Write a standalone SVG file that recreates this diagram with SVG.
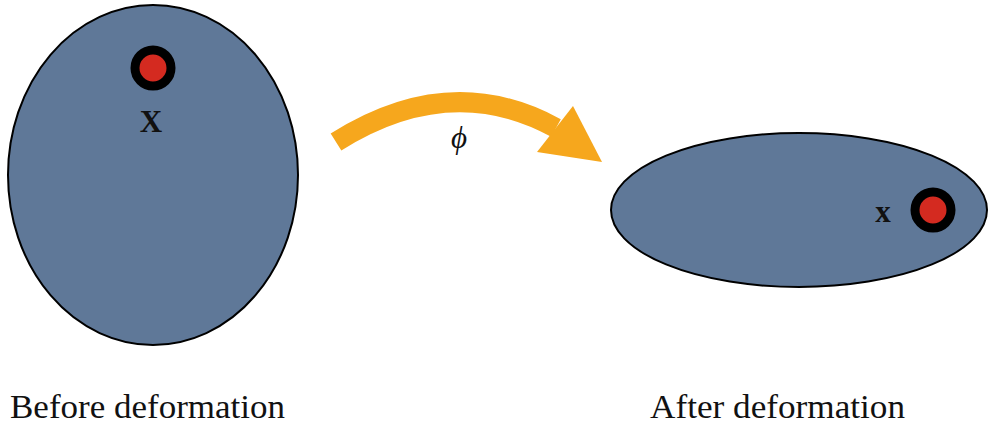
<svg xmlns="http://www.w3.org/2000/svg" width="988" height="426" viewBox="0 0 988 426">
<style>
.body{fill:#5f7898;stroke:#000;stroke-width:2}
.pt-ring{fill:#d42a20;stroke:#000;stroke-width:9}
.lbl{font-family:"Liberation Serif","DejaVu Serif",serif;fill:#111}
.arrow{fill:none;stroke:#f6a71d;stroke-width:20}
</style>
<rect width="988" height="426" fill="#fff"/>
<g id="before">
<ellipse class="body" cx="153" cy="175" rx="145" ry="170"/>
<circle class="pt-ring" cx="153" cy="68" r="18"/>
<text class="lbl" x="151" y="132" font-size="31" font-weight="bold" text-anchor="middle">X</text>
</g>
<g id="after">
<ellipse class="body" cx="799" cy="210" rx="188" ry="77"/>
<circle class="pt-ring" cx="933" cy="210" r="18"/>
<text class="lbl" x="883" y="222" font-size="31" font-weight="bold" text-anchor="middle">x</text>
</g>
<g id="connectors">
<path class="arrow" d="M 336 142 Q 450 70 556 128"/>
<polygon points="573,106 602,162 537,152" fill="#f6a71d"/>
<text class="lbl" x="459" y="148" font-size="31" font-style="italic" text-anchor="middle">ϕ</text>
</g>
<g id="labels">
<text class="lbl" x="10" y="418" font-size="34" textLength="275" lengthAdjust="spacingAndGlyphs">Before deformation</text>
<text class="lbl" x="650" y="418" font-size="34" textLength="255" lengthAdjust="spacingAndGlyphs">After deformation</text>
</g>
</svg>
